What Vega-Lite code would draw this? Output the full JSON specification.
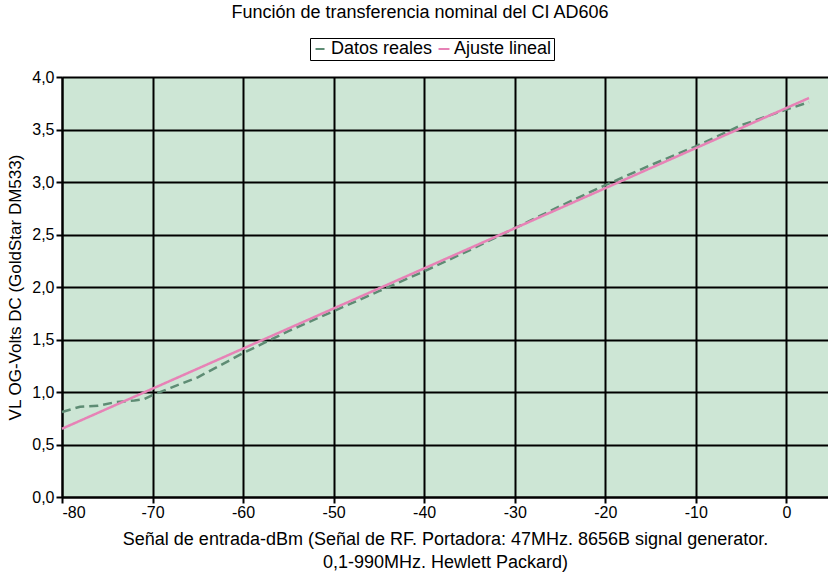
{
  "$schema": "https://vega.github.io/schema/vega-lite/v6.json",
  "width": 766,
  "height": 420,
  "autosize": {"type": "none"},
  "padding": {"left": 62, "top": 77, "right": 0, "bottom": 79},
  "background": "white",
  "title": {
    "text": "Función de transferencia nominal del CI AD606",
    "anchor": "middle",
    "dx": -25,
    "offset": 16,
    "fontSize": 18,
    "fontWeight": "normal",
    "font": "Liberation Sans",
    "color": "black"
  },
  "config": {
    "locale": {
      "number": {"decimal": ",", "thousands": ".", "grouping": [3], "currency": ["", " €"], "minus": "-"}
    },
    "view": {"fill": "#cde6d5", "stroke": null},
    "font": "Liberation Sans",
    "axis": {
      "domainColor": "black",
      "domainWidth": 2,
      "tickColor": "black",
      "tickWidth": 2,
      "tickSize": 6,
      "labelColor": "black",
      "labelFontSize": 16,
      "labelFont": "Liberation Sans",
      "titleFont": "Liberation Sans",
      "titleFontSize": 17,
      "titleFontWeight": "normal",
      "titleColor": "black",
      "grid": true,
      "gridColor": "black",
      "gridWidth": 2,
      "gridOpacity": 1
    }
  },
  "data": {
    "values": [
      {"serie": "Datos reales", "x": -80, "y": 0.81},
      {"serie": "Datos reales", "x": -78, "y": 0.86},
      {"serie": "Datos reales", "x": -76, "y": 0.87},
      {"serie": "Datos reales", "x": -74, "y": 0.905},
      {"serie": "Datos reales", "x": -72, "y": 0.92},
      {"serie": "Datos reales", "x": -71, "y": 0.93},
      {"serie": "Datos reales", "x": -70, "y": 0.97},
      {"serie": "Datos reales", "x": -68, "y": 1.04},
      {"serie": "Datos reales", "x": -65, "y": 1.14},
      {"serie": "Datos reales", "x": -60, "y": 1.37},
      {"serie": "Datos reales", "x": -55, "y": 1.58},
      {"serie": "Datos reales", "x": -50, "y": 1.77},
      {"serie": "Datos reales", "x": -45, "y": 1.96},
      {"serie": "Datos reales", "x": -40, "y": 2.15},
      {"serie": "Datos reales", "x": -35, "y": 2.35},
      {"serie": "Datos reales", "x": -30, "y": 2.56},
      {"serie": "Datos reales", "x": -25, "y": 2.77},
      {"serie": "Datos reales", "x": -20, "y": 2.97},
      {"serie": "Datos reales", "x": -15, "y": 3.16},
      {"serie": "Datos reales", "x": -10, "y": 3.34},
      {"serie": "Datos reales", "x": -5, "y": 3.54},
      {"serie": "Datos reales", "x": 0, "y": 3.69},
      {"serie": "Datos reales", "x": 2.5, "y": 3.76},
      {"serie": "Ajuste lineal", "x": -80, "y": 0.65},
      {"serie": "Ajuste lineal", "x": 2.5, "y": 3.8}
    ]
  },
  "mark": {"type": "line", "strokeWidth": 2.5},
  "encoding": {
    "x": {
      "field": "x",
      "type": "quantitative",
      "scale": {"domain": [-80, 4.6], "nice": false, "zero": false},
      "axis": {
        "values": [-80, -70, -60, -50, -40, -30, -20, -10, 0],
        "format": "d",
        "labelPadding": 1,
        "titlePadding": 10,
        "titleFontSize": 18,
        "titleLineHeight": 23,
        "title": ["Señal de entrada-dBm (Señal de RF. Portadora: 47MHz. 8656B signal generator.", "0,1-990MHz. Hewlett Packard)"]
      }
    },
    "y": {
      "field": "y",
      "type": "quantitative",
      "scale": {"domain": [0, 4], "nice": false},
      "axis": {
        "values": [0, 0.5, 1, 1.5, 2, 2.5, 3, 3.5, 4],
        "format": ".1f",
        "labelPadding": 2,
        "titlePadding": 7,
        "title": "VL OG-Volts DC (GoldStar DM533)"
      }
    },
    "color": {
      "field": "serie",
      "type": "nominal",
      "scale": {"domain": ["Datos reales", "Ajuste lineal"], "range": ["#5e8c74", "#e782b6"]},
      "legend": {
        "title": null,
        "orient": "none",
        "legendX": 248,
        "legendY": -39,
        "direction": "horizontal",
        "strokeColor": "black",
        "fillColor": "white",
        "padding": 2,
        "symbolType": "stroke",
        "symbolSize": 120,
        "symbolStrokeWidth": 2,
        "labelFontSize": 18,
        "labelFont": "Liberation Sans",
        "labelColor": "black",
        "labelOffset": 1,
        "columnPadding": 1
      }
    },
    "strokeDash": {
      "field": "serie",
      "type": "nominal",
      "scale": {"domain": ["Datos reales", "Ajuste lineal"], "range": [[9, 5], [1, 0]]},
      "legend": null
    }
  }
}
